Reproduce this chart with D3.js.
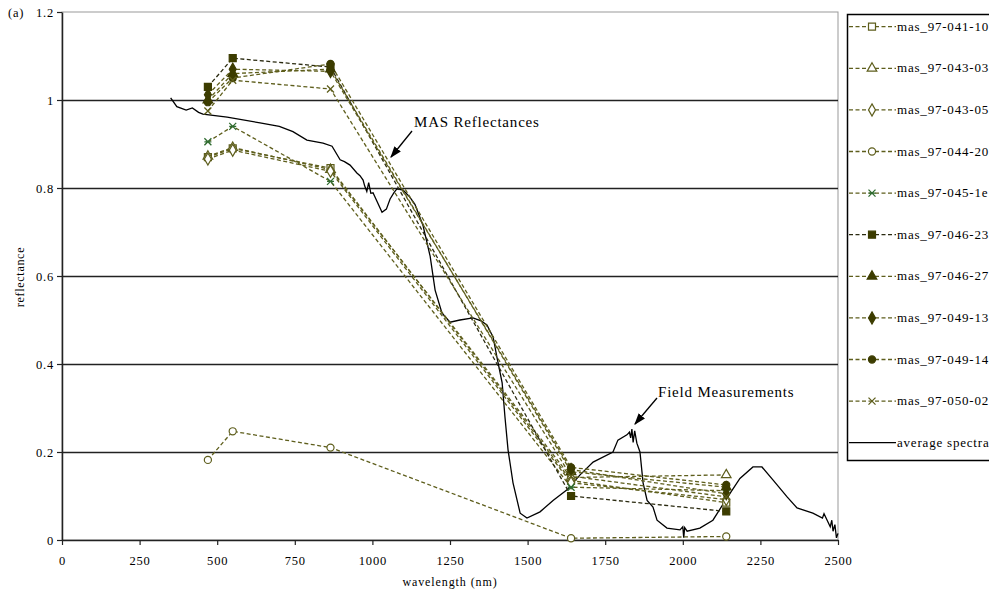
<!DOCTYPE html>
<html><head><meta charset="utf-8">
<script src="https://cdn.jsdelivr.net/npm/d3@7"></script>
<style>
body{margin:0;background:#fff;}
svg{display:block;}
text{font-family:"Liberation Serif","Times New Roman",serif;fill:#000;}
</style></head>
<body>
<svg id="c" width="989" height="597"></svg>
<script>
// ---- data ----
const bands = [470, 550, 865, 1640, 2140];
const seriesNames = ["mas_97-041-10","mas_97-043-03","mas_97-043-05","mas_97-044-20","mas_97-045-1e","mas_97-046-23","mas_97-046-27","mas_97-049-13","mas_97-049-14","mas_97-050-02"];
const seriesLegendText = ["mas_97-041-10","mas_97-043-03","mas_97-043-05","mas_97-044-20","mas_97-045-1e","mas_97-046-23","mas_97-046-27","mas_97-049-13","mas_97-049-14","mas_97-050-02"];
const seriesMarkers = ["square","triangle","diamond","circle","asterisk","squareF","triangleF","diamondF","circleF","cross"];
const s041_10 = [0.870, 0.890, 0.845, 0.135, 0.085];
const s043_03 = [0.872, 0.892, 0.842, 0.142, 0.148];
const s043_05 = [0.866, 0.886, 0.838, 0.130, 0.092];
const s044_20 = [0.182, 0.247, 0.210, 0.004, 0.008];
const s045_1e = [0.905, 0.940, 0.815, 0.120, 0.112];
const s046_23 = [1.030, 1.095, 1.075, 0.100, 0.065];
const s046_27 = [1.000, 1.060, 1.070, 0.155, 0.120];
const s049_13 = [1.012, 1.070, 1.065, 0.160, 0.105];
const s049_14 = [0.995, 1.050, 1.082, 0.165, 0.125];
const s050_02 = [0.975, 1.045, 1.025, 0.145, 0.098];
const seriesValues = [s041_10,s043_03,s043_05,s044_20,s045_1e,s046_23,s046_27,s049_13,s049_14,s050_02];

const avgWave = [350,370,400,420,440,454,532,638,700,744,789,841,870,896,910,928,950,960,970,975,982,988,995,1002,1031,1045,1057,1070,1079,1099,1120,1137,1163,1186,1202,1224,1250,1282,1324,1350,1369,1389,1401,1418,1427,1437,1453,1476,1498,1540,1582,1627,1669,1711,1775,1791,1820,1828,1832,1836,1840,1845,1852,1862,1872,1885,1904,1917,1949,1991,2000,2003,2006,2014,2055,2097,2142,2184,2226,2255,2291,2336,2368,2419,2450,2455,2465,2475,2480,2484,2490,2495,2500];
const avgRefl = [1.005,0.985,0.977,0.982,0.972,0.968,0.961,0.948,0.940,0.928,0.909,0.902,0.895,0.864,0.860,0.852,0.834,0.828,0.818,0.805,0.792,0.812,0.788,0.789,0.745,0.752,0.775,0.790,0.798,0.795,0.780,0.763,0.715,0.645,0.568,0.516,0.495,0.500,0.505,0.498,0.489,0.461,0.416,0.357,0.280,0.205,0.130,0.061,0.050,0.064,0.090,0.114,0.148,0.177,0.200,0.227,0.239,0.245,0.232,0.252,0.222,0.248,0.220,0.200,0.130,0.090,0.075,0.045,0.027,0.023,0.030,0.005,0.028,0.020,0.027,0.045,0.095,0.140,0.166,0.166,0.136,0.098,0.073,0.061,0.050,0.060,0.045,0.030,0.045,0.020,0.035,0.005,0.015];

const xTicks = [0,250,500,750,1000,1250,1500,1750,2000,2250,2500];
const yTicks = [0,0.2,0.4,0.6,0.8,1,1.2];

// ---- layout ----
const svg = d3.select("#c");
const L=62, R=838, T=12, B=540;
const x = d3.scaleLinear().domain([0,2500]).range([L,R]);
const y = d3.scaleLinear().domain([0,1.2]).range([B,T]);

const olive="#5e5e1c", fillC="#3c3c00", green="#2f6b2f";

// plot border
svg.append("rect").attr("x",L).attr("y",T).attr("width",R-L).attr("height",B-T)
  .attr("fill","none").attr("stroke","#999").attr("stroke-width",1);
// gridlines
svg.append("g").selectAll("line").data(yTicks.filter(d=>d>0&&d<1.2)).join("line")
  .attr("x1",L).attr("x2",R).attr("y1",d=>Math.round(y(d))+0.5).attr("y2",d=>Math.round(y(d))+0.5)
  .attr("stroke","#222").attr("stroke-width",1.3);

// axes
const fmtY = d=> d===0?"0":(d===1?"1":d3.format(".1f")(d));
const yAxis = svg.append("g").attr("transform",`translate(${L},0)`)
  .call(d3.axisLeft(y).tickValues(yTicks).tickFormat(fmtY).tickSize(5).tickSizeOuter(0));
const xAxis = svg.append("g").attr("transform",`translate(0,${B})`)
  .call(d3.axisBottom(x).tickValues(xTicks).tickFormat(d3.format("d")).tickSize(5).tickSizeOuter(0));
[yAxis,xAxis].forEach(a=>{
  a.select(".domain").attr("stroke","#222").attr("stroke-width",1.5);
  a.selectAll(".tick line").attr("stroke","#222").attr("stroke-width",1.2);
  a.selectAll("text").style("font-family","'Liberation Serif',serif").style("font-size","12.5px")
    .attr("letter-spacing","0.8px").attr("fill","#000");
});
xAxis.selectAll("text").attr("dy","1.35em");
yAxis.selectAll("text").attr("x",-8);

// axis titles
svg.append("text").attr("x",450).attr("y",586).attr("text-anchor","middle").style("font-size","12px").attr("letter-spacing","0.9px").text("wavelength (nm)");
svg.append("text").attr("transform","translate(24,277) rotate(-90)").attr("text-anchor","middle").style("font-size","12px").attr("letter-spacing","0.7px").text("reflectance");
svg.append("text").attr("x",8).attr("y",17).style("font-size","12.5px").attr("letter-spacing","0.8px").text("(a)");

// average spectrum
const lineGen = d3.line().x(d=>x(d[0])).y(d=>y(d[1]));
svg.append("path").datum(avgWave.map((w,i)=>[w,avgRefl[i]]))
  .attr("d",lineGen).attr("fill","none").attr("stroke","#000").attr("stroke-width",1.3);

// marker drawing
function drawMarker(g,type,cx,cy){
  const sym = {square:d3.symbolSquare,triangle:d3.symbolTriangle,diamond:d3.symbolDiamond,circle:d3.symbolCircle};
  const base=type.replace("F","");
  if(sym[base]){
    const size = base==="square"?49:base==="triangle"?40:base==="diamond"?42:40;
    g.append("path").attr("d",d3.symbol().type(sym[base]).size(size)())
      .attr("transform",`translate(${cx},${cy})`)
      .attr("fill",type.endsWith("F")?fillC:"#fff")
      .attr("stroke",type.endsWith("F")?fillC:olive).attr("stroke-width",1.2);
  } else if(type==="asterisk"){
    const h=3.5;
    const p=`M${cx-h},${cy-h}L${cx+h},${cy+h}M${cx-h},${cy+h}L${cx+h},${cy-h}M${cx-h},${cy}L${cx+h},${cy}`;
    g.append("path").attr("d",p).attr("stroke",green).attr("stroke-width",1.3).attr("fill","none");
  } else if(type==="cross"){
    const h=3.5;
    const p=`M${cx-h},${cy-h}L${cx+h},${cy+h}M${cx-h},${cy+h}L${cx+h},${cy-h}`;
    g.append("path").attr("d",p).attr("stroke",olive).attr("stroke-width",1.3).attr("fill","none");
  }
}

// series lines
const lineColors = seriesNames.map((n,i)=> i===5?"#2a2a10":olive);
const linesG = svg.append("g");
seriesValues.forEach((vals,i)=>{
  linesG.append("path").datum(bands.map((b,j)=>[b,vals[j]]))
    .attr("d",lineGen).attr("fill","none").attr("stroke",lineColors[i])
    .attr("stroke-width",1.3).attr("stroke-dasharray","4,2.5");
});
const markG = svg.append("g");
seriesValues.forEach((vals,i)=>{
  bands.forEach((b,j)=>drawMarker(markG,seriesMarkers[i],x(b),y(vals[j])));
});

// annotations
const defs=svg.append("defs");
defs.append("marker").attr("id","ah").attr("viewBox","0 0 10 10").attr("refX",9).attr("refY",5)
  .attr("markerWidth",9).attr("markerHeight",9).attr("orient","auto-start-reverse")
  .append("path").attr("d","M0,1.5L10,5L0,8.5z").attr("fill","#000");
svg.append("text").attr("x",414).attr("y",127).style("font-size","15px").attr("letter-spacing","0.8px").text("MAS Reflectances");
svg.append("line").attr("x1",412).attr("y1",131).attr("x2",391).attr("y2",157)
  .attr("stroke","#000").attr("stroke-width",1.3).attr("marker-end","url(#ah)");
svg.append("text").attr("x",658).attr("y",397).style("font-size","15px").attr("letter-spacing","0.8px").text("Field Measurements");
svg.append("line").attr("x1",657).attr("y1",398).attr("x2",635).attr("y2",424)
  .attr("stroke","#000").attr("stroke-width",1.3).attr("marker-end","url(#ah)");

// legend
const lg = svg.append("g");
lg.append("rect").attr("x",847.5).attr("y",14.5).attr("width",160).attr("height",446)
  .attr("fill","#fff").attr("stroke","#000").attr("stroke-width",1.5);
const legY = i=> 26.7 + i*41.6;
seriesNames.forEach((n,i)=>{
  const yy=legY(i);
  lg.append("line").attr("x1",849).attr("x2",896).attr("y1",yy).attr("y2",yy)
    .attr("stroke",lineColors[i]).attr("stroke-width",1.3).attr("stroke-dasharray","4,2.5");
  drawMarker(lg,seriesMarkers[i],872,yy);
  lg.append("text").attr("x",897).attr("y",yy+4).style("font-size","13px").attr("letter-spacing","0.8px").text(seriesLegendText[i]);
});
{
  const yy=legY(10);
  lg.append("line").attr("x1",849).attr("x2",896).attr("y1",yy).attr("y2",yy).attr("stroke","#000").attr("stroke-width",1.3);
  lg.append("text").attr("x",897).attr("y",yy+4).style("font-size","13px").attr("letter-spacing","0.8px").text("average spectra");
}
</script>
</body></html>
